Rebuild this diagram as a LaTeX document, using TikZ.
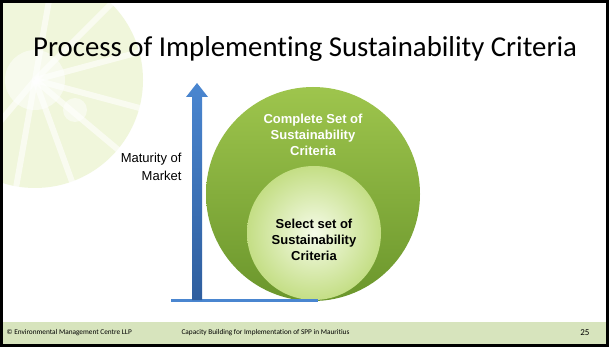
\documentclass[tikz,border=0pt]{standalone}
\usepackage{fontspec}
\setmainfont{Liberation Sans}
\newfontfamily\calibri[Ligatures=NoCommon]{Carlito}
\usetikzlibrary{arrows.meta}
\definecolor{footbg}{HTML}{D7E4BD}
\definecolor{gtop}{HTML}{9EC54D}
\definecolor{gbot}{HTML}{6B962C}
\definecolor{ilight}{HTML}{F5FBE8}
\definecolor{iedge}{HTML}{C4DE85}
\definecolor{btop}{HTML}{4A86D0}
\definecolor{bbot}{HTML}{2F5E9E}
\definecolor{limeg}{HTML}{D5E79A}
\tikzset{
  circtext/.style={align=center, font=\fontsize{13}{16}\selectfont\bfseries},
  foot/.style={font=\calibri\fontsize{7.3}{8}\selectfont, anchor=west},
}
\begin{document}
\begin{tikzpicture}[x=1pt,y=-1pt]
\useasboundingbox (0,0) rectangle (609,347);
\fill[white] (0,0) rectangle (609,347);
% lime decoration
\begin{scope}
\clip (2,2) rectangle (300,320);
\fill[limeg, opacity=0.35] (35,80) circle (108);
\fill[white, opacity=0.5] (35,80) circle (30);
\foreach \a in {-80,-45,-15,15,40,70,100,130}{
  \draw[white, line width=6pt, opacity=0.6] (35,80) -- ++(\a:110);
}
\fill[white, opacity=0.5] (75,110) circle (12);
\fill[white] (145,0) rectangle (300,320);
\end{scope}
% title
\node[anchor=base west, inner sep=0, font=\calibri\fontsize{28.8}{32}\selectfont] (title) at (33,57) {Process of Implementing Sustainability Criteria};
% footer
\fill[footbg] (2,322) rectangle (607,344);
\node[foot] (f1) at (3,333) {© Environmental Management Centre LLP};
\node[foot] (f2) at (178,333) {Capacity Building for Implementation of SPP in Mauritius};
\node[anchor=east, font=\calibri\fontsize{9}{10}\selectfont] (f3) at (593,333) {25};
% circles
\shade[top color=gtop, bottom color=gbot] (313,194) circle (107);
\shade[inner color=ilight, outer color=iedge] (314,233) circle (67);
\node[circtext, text=white] (outer) at (313,135) {Complete Set of\\Sustainability\\Criteria};
\node[circtext, text=black] (inner) at (314,240) {Select set of\\Sustainability\\Criteria};
% axis
\coordinate (xl) at (171,300);
\coordinate (xr) at (318,300);
\draw[btop, line width=3pt] (xl) -- (xr);
\shade[top color=btop, bottom color=bbot] (192,300) -- (192,97) -- (186,97) -- (197,83) -- (208,97) -- (202,97) -- (202,300) -- cycle;
\node[align=right, anchor=east, font=\fontsize{13}{18}\selectfont] (mat) at (185,167) {Maturity of\\Market};
% frame
\draw[black, line width=3pt] (1.5,1.5) rectangle (607.5,345.5);
\end{tikzpicture}
\end{document}
